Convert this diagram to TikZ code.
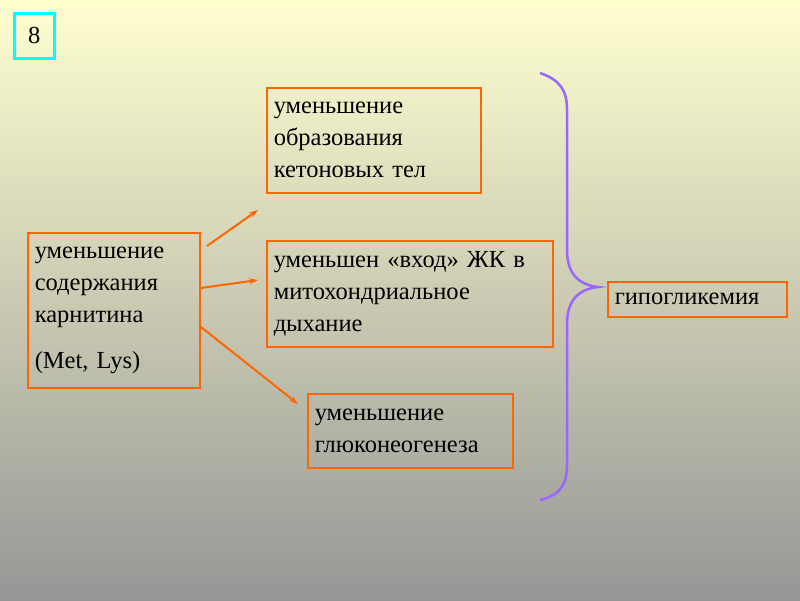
\documentclass[tikz,border=0pt]{standalone}
\usepackage{fontspec}
\usetikzlibrary{arrows.meta}
\setmainfont{Liberation Serif}
\definecolor{org}{RGB}{255,102,0}
\definecolor{brc}{RGB}{153,102,255}
\definecolor{topc}{RGB}{255,255,208}
\definecolor{botc}{RGB}{150,150,150}
\definecolor{cy}{RGB}{0,255,255}
\begin{document}
\begin{tikzpicture}[x=1pt,y=-1pt,
  bx/.style={draw=org,line width=1.5pt,anchor=north west,align=left,inner xsep=7pt,inner ysep=2pt,font=\fontsize{24.5}{32}\selectfont},
  arr/.style={draw=org,line width=2pt,-{Stealth[length=9pt,width=6pt]}}]
\shade[top color=topc,bottom color=botc] (0,0) rectangle (800,600);
\useasboundingbox (0,0) rectangle (800,600);
\node[draw=cy,line width=2.5pt,anchor=north west,minimum width=40pt,minimum height=45pt,font=\fontsize{24.5}{30}\selectfont] (n8) at (13,12) {8};
\node[bx,minimum width=172pt,minimum height=155pt,text width=158pt] (l) at (27,232) {уменьшение\\содержания\\карнитина\\[14pt](Met, Lys)};
\node[bx,minimum width=214pt,minimum height=105pt,text width=200pt] (a) at (266,87) {уменьшение\\образования\\кетоновых тел};
\node[bx,minimum width=286pt,minimum height=106pt,text width=272pt] (b) at (266,240) {уменьшен «вход» ЖК в\\митохондриальное\\дыхание};
\node[bx,minimum width=205pt,minimum height=74pt,text width=191pt] (c) at (307,393) {уменьшение\\глюконеогенеза};
\node[bx,minimum width=179pt,minimum height=35pt,text width=165pt,inner ysep=0pt] (g) at (607,281) {гипогликемия};
\coordinate (a1) at (258,210); \coordinate (b1) at (258,280); \coordinate (c1) at (298,404);
\draw[arr] (207,246) -- (a1);
\draw[arr] (201,288) -- (b1);
\draw[arr] (201,327) -- (c1);
\draw[brc,line width=2.5pt] (540,73) .. controls (560,80) and (567,90) .. (567,110) -- (567,250) .. controls (567,275) and (580,285) .. (598,287) .. controls (580,289) and (567,299) .. (567,324) -- (567,465) .. controls (567,485) and (560,495) .. (540,500);
\end{tikzpicture}
\end{document}
